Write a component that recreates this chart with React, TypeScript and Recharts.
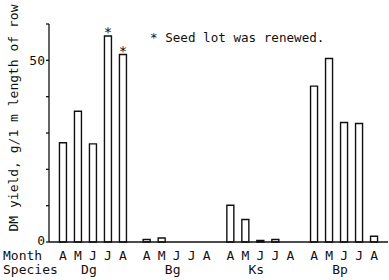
import { Bar, BarChart, LabelList, XAxis, YAxis } from "recharts";

const SPECIES = ["Dg", "Bg", "Ks", "Bp"];
const MONTHS = ["A", "M", "J", "J", "A"];
// DM yield, g per 1 m length of row, one row per species, April..August
const DG = [27.3, 36, 27, 56.7, 51.6];
const BG = [0.7, 1.1, 0, 0, 0];
const KS = [10.1, 6.2, 0.4, 0.7, 0];
const BP = [42.9, 50.5, 32.9, 32.6, 1.6];
const RENEWED = [
  [false, false, false, true, true],
  [false, false, false, false, false],
  [false, false, false, false, false],
  [false, false, false, false, false],
];
const Y_TICKS = [0, 10, 20, 30, 40, 50, 60];
const Y_LABELS = [0, 50];

const GROUP_STEP = 5.58; // slots between the first bars of two species
const FONT = "'DejaVu Sans Mono', monospace";
const INK = "#111";

const rows = [DG, BG, KS, BP].flatMap((values, g) =>
  values.map((v, m) => ({
    x: g * GROUP_STEP + m,
    yield: v,
    month: MONTHS[m],
    species: SPECIES[g],
    m,
    star: RENEWED[g][m] ? "*" : "",
  })),
);

function MonthTick(props: any) {
  const { x, y, index } = props;
  const row = rows[index];
  if (!row) return null;
  return (
    <g>
      <text x={x} y={y + 16} textAnchor="middle" fontFamily={FONT} fontSize={13} fill={INK}>
        {row.month}
      </text>
      {row.m === 2 ? (
        <text x={x - 4} y={y + 30} textAnchor="middle" fontFamily={FONT} fontSize={13} fill={INK}>
          {row.species}
        </text>
      ) : null}
    </g>
  );
}

function YTick(props: any) {
  const { x, y, payload } = props;
  if (!Y_LABELS.includes(payload.value)) return null;
  const lift = payload.value === 0 ? 2 : 0;
  return (
    <text x={x} y={y + 4.5 - lift} textAnchor="end" fontFamily={FONT} fontSize={13} fill={INK}>
      {payload.value}
    </text>
  );
}

function Star(props: any) {
  const { x, y, width, value } = props;
  if (!value) return null;
  return (
    <text x={x + width / 2} y={y + 1} textAnchor="middle" fontFamily={FONT} fontSize={14} fill={INK}>
      {value}
    </text>
  );
}

const textStyle: React.CSSProperties = {
  position: "absolute",
  fontFamily: FONT,
  fontSize: 13,
  color: INK,
  whiteSpace: "nowrap",
  lineHeight: "12px",
};

export default function App() {
  return (
    <div style={{ position: "absolute", left: 0, top: 0, width: 389, height: 280, background: "#fff" }}>
      <BarChart
        width={389}
        height={280}
        data={rows}
        margin={{ top: 24, right: 1, bottom: 0, left: 0 }}
      >
        <XAxis
          dataKey="x"
          type="number"
          domain={[-0.93, 21.67]}
          allowDataOverflow
          ticks={rows.map((r) => r.x)}
          interval={0}
          tick={<MonthTick />}
          tickLine={false}
          tickSize={0}
          height={38}
          axisLine={{ stroke: INK, strokeWidth: 1.3 }}
        />
        <YAxis
          type="number"
          domain={[0, 60]}
          ticks={Y_TICKS}
          interval={0}
          width={49}
          tickSize={3}
          tickMargin={1}
          tick={<YTick />}
          tickLine={{ stroke: INK, strokeWidth: 1.3 }}
          axisLine={{ stroke: INK, strokeWidth: 1.3 }}
        />
        <Bar
          dataKey="yield"
          barSize={7}
          fill="#fff"
          stroke={INK}
          strokeWidth={1.4}
          isAnimationActive={false}
        >
          <LabelList dataKey="star" content={<Star />} />
        </Bar>
      </BarChart>
      <div style={{ ...textStyle, left: 150, top: 32, fontSize: 12.6 }}>* Seed lot was renewed.</div>
      <div style={{ ...textStyle, left: 3, top: 250 }}>Month</div>
      <div style={{ ...textStyle, left: 3, top: 264 }}>Species</div>
      <div
        style={{
          ...textStyle,
          left: 14,
          top: 118,
          transform: "translate(-50%, -50%) rotate(-90deg)",
        }}
      >
        DM yield, g/1 m length of row
      </div>
    </div>
  );
}
